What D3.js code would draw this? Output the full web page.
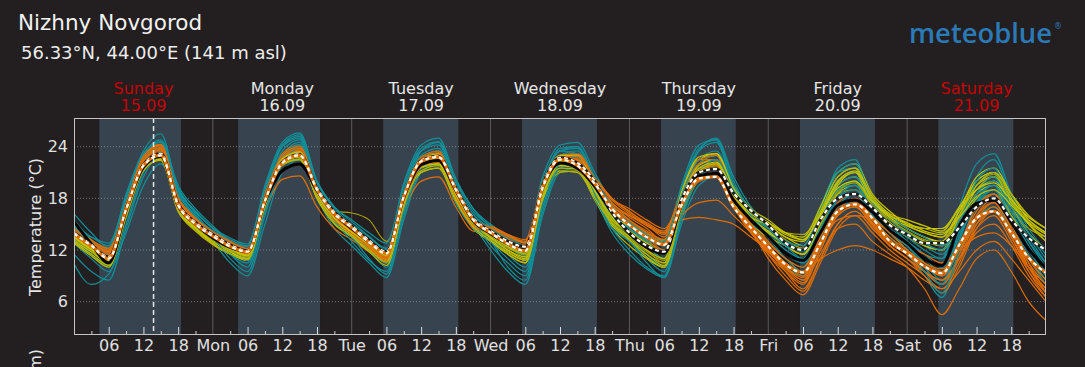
<!DOCTYPE html>
<html><head><meta charset="utf-8">
<script src="https://cdn.jsdelivr.net/npm/d3@7"></script>
<style>
html,body{margin:0;padding:0;background:#231f20;}
svg{display:block;font-family:"DejaVu Sans",sans-serif;}
</style></head><body>
<svg id="chart" width="1085" height="367"></svg>
<script>
// ---------- data ----------
const titleText = "Nizhny Novgorod";
const subtitleText = "56.33°N, 44.00°E (141 m asl)";
const dayNames = ["Sunday","Monday","Tuesday","Wednesday","Thursday","Friday","Saturday"];
const dayDates = ["15.09","16.09","17.09","18.09","19.09","20.09","21.09"];
const weekendDays = ["Sunday","Saturday"];
const dayShort = ["Sun","Mon","Tue","Wed","Thu","Fri","Sat"];
const hourLabels = ["06","12","18"];
const sunriseHours = [4.37,4.35,5.46,5.43,5.46,5.48,5.39];
const sunsetHours = [18.49,18.52,18.42,18.39,18.37,18.44,18.35];
const yTicks = [6,12,18,24];
const nowHour = 13.75;
const hours = d3.range(0,169,3);

const medianLine = [15.3,12.7,10.5,16.6,21.6,22.9,17.1,15.0, 13.4,12.3,11.8,17.6,21.2,22.0,18.9,16.2, 14.5,12.9,11.7,18.1,21.9,22.4,18.9,15.4, 13.9,12.7,12.0,19.2,22.1,21.5,19.4,16.3, 13.9,12.3,11.6,17.2,20.6,20.9,17.8,15.5, 13.6,11.6,10.8,14.0,17.2,17.8,16.4,14.3, 12.8,11.0,10.2,14.8,17.4,17.8,15.2,12.1,9.9];
const meanUpper = [14.0,12.6,11.2,16.8,21.9,23.2,17.4,15.2, 13.8,12.6,11.9,17.8,22.2,23.1,19.2,16.4, 14.8,13.1,11.8,18.3,22.4,22.9,19.2,15.7, 14.2,13.0,12.4,19.5,22.7,22.1,20.0,16.4, 14.0,12.5,11.8,17.8,21.0,21.4,18.6,16.6, 14.9,12.8,12.0,15.5,18.0,18.5,16.9,14.9, 13.8,12.8,12.8,14.6,17.0,18.0,15.5,13.4,12.0];
const meanLower = [13.9,12.5,11.0,16.7,21.8,23.0,17.2,15.0, 13.6,12.4,11.8,17.7,22.1,23.0,19.0,16.2, 14.6,12.9,11.6,18.2,22.3,22.8,19.0,15.5, 14.0,12.7,11.9,19.2,22.5,21.8,19.7,16.8, 14.9,13.5,12.6,17.2,20.3,20.5,17.0,14.6, 12.4,10.3,9.4,12.8,16.5,17.3,15.7,13.0, 11.6,10.1,9.3,12.6,15.7,16.5,14.0,11.1,9.35];

const tealMembers = [
[16.2,14.0,12.3,18.5,23.5,25.5,19.0,16.5, 14.5,13.0,12.4,19.5,24.5,25.6,20.0,17.0, 15.3,13.6,12.2,19.8,24.2,25.0,20.3,16.8, 15.0,13.7,12.8,20.5,24.2,24.5,21.0,17.5, 15.5,14.0,12.5,19.5,24.2,24.8,19.0,16.0, 14.0,12.5,11.5,16.5,21.5,22.5,17.5,15.0, 13.0,11.5,11.0,17.0,22.0,23.2,18.5,14.5,12.0],
[10.4,8.0,9.2,14.0,19.5,22.0,18.5,15.5, 13.0,10.5,9.0,15.0,21.0,22.5,18.0,14.5, 12.5,10.5,8.8,15.5,21.0,22.0,18.5,15.0, 12.0,9.5,8.0,16.0,21.0,21.5,18.0,14.0, 11.5,9.8,8.8,15.0,19.5,20.5,17.0,14.0, 12.0,10.0,9.0,13.0,17.0,17.5,15.5,13.5, 11.5,9.0,6.5,11.5,15.5,17.0,14.5,11.0,8.0],
[15.5,13.2,11.8,17.5,23.0,24.8,19.5,16.8, 14.8,13.0,11.6,18.5,24.0,25.2,19.5,16.5, 14.5,12.8,11.0,18.0,23.5,24.5,19.5,16.0, 14.5,13.0,12.0,19.5,23.8,24.0,20.0,16.5, 14.5,12.5,11.0,18.5,23.5,25.0,20.5,17.0, 15.0,13.0,12.0,17.0,21.0,21.5,17.0,15.5, 14.0,12.5,11.5,15.0,20.5,22.5,18.0,14.0,11.0],
[12.8,11.0,9.5,15.0,21.0,23.5,18.0,15.0, 13.5,11.5,10.0,17.0,23.0,24.5,19.0,16.0, 14.0,12.0,10.5,17.5,22.5,23.5,18.5,15.0, 13.5,11.5,10.0,18.0,22.5,23.0,19.0,15.5, 13.5,11.5,10.0,17.0,21.5,22.0,18.0,15.0, 13.0,11.0,10.0,14.5,19.0,20.0,16.5,14.5, 13.0,11.0,9.5,13.5,18.0,19.5,16.0,12.5,9.5],
[14.2,12.5,11.5,17.0,22.5,24.2,19.2,16.2, 14.0,12.6,12.0,18.0,23.0,24.0,19.0,16.0, 14.3,12.8,11.5,18.5,22.8,23.5,19.0,15.5, 14.0,12.5,11.5,19.0,23.0,23.5,20.0,16.5, 14.5,13.0,12.0,18.0,22.0,23.0,18.5,15.5, 13.5,11.5,10.5,14.0,18.5,20.0,16.0,14.0, 12.5,10.5,8.5,12.5,17.0,19.0,15.5,12.0,9.0],
[13.5,11.5,10.0,16.0,22.0,24.0,18.2,15.5, 13.8,12.0,11.0,17.0,22.5,23.5,18.5,15.5, 13.8,12.0,10.0,17.0,22.0,23.0,18.0,15.0, 13.0,11.0,9.5,17.5,22.0,22.5,18.5,15.0, 13.0,11.0,9.5,16.5,21.0,22.0,18.5,15.5, 13.8,12.0,11.0,15.0,19.5,20.5,17.0,15.0, 13.5,12.0,11.0,14.0,17.5,18.5,15.0,12.0,10.0],
[14.8,13.0,12.0,17.8,22.8,24.0,18.8,16.0, 14.2,12.8,11.8,18.2,23.5,24.8,19.8,16.8, 15.0,13.5,12.0,18.8,23.0,23.8,19.5,16.2, 14.5,13.2,12.2,19.5,23.5,23.2,19.5,16.0, 14.0,12.5,11.5,17.0,21.0,21.5,17.5,14.5, 12.5,10.5,9.0,12.5,17.0,18.5,16.0,14.0, 12.0,10.0,8.0,13.0,18.5,20.5,16.5,13.0,10.5],
[13.0,11.8,11.0,16.5,21.8,23.2,17.8,15.2, 13.2,11.5,10.5,16.5,22.0,23.2,18.2,15.2, 13.5,11.0,9.2,16.0,21.5,22.5,17.5,14.5, 13.0,10.0,8.5,16.5,21.5,22.0,18.0,14.5, 13.0,10.5,8.8,15.5,20.5,21.5,18.0,15.0, 14.0,12.5,12.0,16.0,20.0,21.0,17.5,15.5, 14.0,12.8,12.0,15.5,19.5,21.0,17.5,14.0,11.5],
[14.5,12.8,11.0,17.2,22.5,23.8,18.5,16.0, 13.8,12.2,10.8,17.5,22.8,24.2,19.2,16.2, 14.8,13.0,11.5,18.0,22.5,23.2,18.8,15.8, 14.2,12.5,11.2,18.8,22.8,23.0,19.2,15.8, 14.5,13.2,12.5,18.5,22.5,23.5,19.5,16.5, 14.5,12.8,11.8,15.5,19.0,19.5,16.5,14.5, 13.0,11.5,10.0,13.5,17.5,19.0,15.0,11.5,8.5],
[15.0,13.5,12.5,18.0,23.0,24.5,19.0,16.5, 14.5,13.2,12.5,19.0,24.0,25.0,19.8,16.5, 14.8,13.0,12.0,19.0,23.5,24.2,19.8,16.5, 14.8,13.5,12.5,20.0,23.5,24.0,20.5,17.0, 15.0,13.5,12.5,19.0,23.5,24.5,19.5,16.0, 13.5,11.0,9.5,13.0,18.0,19.5,16.5,14.0, 12.5,10.0,8.0,14.5,20.0,21.5,17.0,13.5,10.5],
[11.5,9.5,8.5,14.5,20.5,23.0,18.5,15.8, 13.5,11.0,9.5,16.0,22.0,23.8,18.8,15.5, 13.0,10.8,9.5,16.5,22.0,23.0,18.8,15.5, 12.5,10.5,9.0,17.0,22.0,22.8,18.5,14.5, 12.0,10.0,9.0,16.0,21.0,22.5,19.0,16.0, 14.5,13.0,12.5,16.5,21.0,22.0,18.0,16.0, 14.5,13.5,12.5,15.0,18.5,20.0,16.5,13.0,10.0],
[14.8,13.5,12.8,18.2,23.2,24.6,19.2,16.4, 14.6,13.4,12.7,19.2,24.2,25.4,20.0,17.0, 15.5,14.0,12.8,19.5,23.8,24.6,20.0,16.8, 14.6,13.2,12.3,19.8,23.5,23.8,20.5,17.0, 15.2,13.8,13.0,19.2,23.8,24.8,20.0,16.5, 14.5,12.5,11.0,14.5,18.0,19.0,16.0,14.0, 12.0,9.5,7.0,12.0,17.5,19.5,15.5,12.0,9.0]
];

const yellowMembers = [
[13.5,12.0,10.8,16.5,21.8,23.0,17.0,14.8, 13.2,12.0,11.2,17.5,22.5,23.2,18.5,15.8, 14.2,12.8,11.2,18.0,22.0,22.8,18.5,15.2, 13.8,12.5,11.5,19.0,22.5,22.5,19.0,15.8, 14.0,12.5,11.0,17.5,21.5,22.0,18.5,16.0, 14.5,12.8,12.0,15.5,19.5,20.5,17.5,15.5, 14.0,13.0,12.5,15.5,19.0,20.5,18.0,15.0,13.0],
[13.0,11.5,10.2,16.0,21.5,22.5,16.5,14.5, 13.0,11.8,10.8,17.2,22.0,22.8,18.2,15.5, 13.8,12.2,10.5,17.5,21.5,22.0,18.0,14.8, 13.2,11.8,10.8,18.5,21.8,21.5,18.5,15.2, 13.2,11.5,10.2,16.5,20.5,21.5,18.0,15.5, 14.0,12.5,11.5,15.0,19.0,20.0,17.0,15.0, 13.5,12.5,12.0,15.0,18.5,19.5,17.0,14.0,12.0],
[14.0,12.5,11.2,16.8,22.0,23.2,17.5,15.2, 13.5,12.3,11.5,17.8,22.8,23.5,18.8,16.0, 14.5,13.0,11.8,18.5,22.3,23.0,18.8,15.5, 14.0,12.8,12.0,19.2,22.8,22.8,19.5,16.2, 14.5,13.0,12.0,18.0,22.0,23.0,19.0,16.5, 15.0,13.5,13.0,16.5,20.5,21.5,18.0,16.0, 14.5,13.5,13.0,16.5,20.5,21.5,18.5,15.5,14.0],
[13.8,12.2,11.0,16.5,21.5,22.8,17.2,15.0, 13.6,12.4,11.6,17.5,22.2,23.0,18.8,16.5, 16.3,15.5,13.0,17.8,21.5,22.2,18.2,15.0, 13.5,12.2,11.5,18.5,22.0,22.0,18.8,15.5, 13.8,12.0,10.5,16.0,20.0,20.5,17.0,15.0, 14.0,12.5,11.5,14.5,18.5,19.0,17.0,15.5, 14.8,14.0,13.5,15.0,17.5,18.5,16.5,14.5,13.5],
[13.2,11.8,10.5,16.2,21.5,22.8,16.8,14.5, 12.8,11.5,10.8,17.0,22.0,22.5,18.0,15.2, 13.5,12.0,10.8,17.0,21.0,21.5,17.5,14.5, 13.0,11.5,10.5,18.0,21.2,21.0,18.0,14.8, 13.0,11.2,10.0,16.5,21.0,22.0,18.5,16.0, 14.8,13.5,12.5,16.0,20.0,21.0,17.5,15.8, 14.5,13.5,12.8,15.5,19.5,20.5,17.5,15.0,13.0],
[13.6,12.2,11.0,16.6,21.8,23.0,17.0,14.8, 13.4,12.2,11.4,17.8,22.5,23.3,18.6,15.8, 14.0,12.5,11.0,18.0,22.0,22.5,18.5,15.2, 13.5,12.0,11.0,18.8,22.2,22.0,18.8,15.5, 14.2,12.8,11.8,17.8,21.8,22.5,18.5,15.8, 14.2,12.5,11.5,15.0,19.5,21.0,17.0,15.2, 13.8,12.5,12.0,16.0,20.0,21.0,18.0,15.0,13.5],
[12.8,11.3,10.0,15.8,21.2,22.5,16.5,14.2, 12.6,11.5,11.0,17.0,21.8,22.5,18.0,15.0, 13.5,11.8,10.2,16.8,21.0,21.5,17.8,14.5, 13.0,11.5,10.5,17.8,21.0,21.2,17.8,14.5, 12.5,11.0,10.0,16.0,20.5,21.0,17.5,15.0, 13.5,12.5,12.0,15.0,18.5,19.5,16.5,14.8, 14.0,13.0,12.5,15.0,18.0,19.0,16.0,13.5,12.0],
[13.4,12.0,10.8,16.4,21.6,22.9,17.2,15.0, 13.3,12.0,11.3,17.6,22.4,23.0,18.4,15.6, 14.2,12.6,11.4,18.2,22.2,22.6,18.6,15.4, 13.8,12.6,11.8,19.0,22.5,22.2,19.0,16.0, 14.8,13.5,12.5,18.5,22.5,23.2,19.5,16.8, 15.5,14.0,13.5,17.0,21.0,22.0,18.5,16.5, 15.0,14.5,14.5,17.0,20.0,21.0,18.5,16.0,14.5],
[13.0,11.8,10.6,16.2,21.4,22.6,16.8,14.6, 13.0,11.8,11.0,17.3,22.2,22.8,18.2,15.4, 13.8,12.3,10.8,17.6,21.6,22.0,18.0,15.0, 13.4,12.0,11.2,18.4,21.8,21.6,18.4,15.2, 13.6,12.0,11.0,17.0,21.0,21.8,18.0,15.5, 14.0,12.8,12.0,15.8,19.8,21.0,17.8,15.8, 14.8,14.0,13.5,16.5,19.0,20.0,17.5,15.5,14.0],
[13.3,11.9,10.9,16.3,21.5,22.7,17.0,14.8, 13.1,11.9,11.2,17.4,22.1,22.9,18.3,15.6, 14.0,12.6,11.3,17.7,21.8,22.4,18.3,15.1, 13.6,12.3,11.4,18.6,22.0,21.8,18.6,15.3, 13.4,11.8,10.8,16.8,20.8,21.5,18.2,15.8, 14.6,13.2,12.2,15.2,18.8,19.8,17.2,15.6, 14.2,13.2,12.8,16.0,19.5,20.8,17.8,15.2,13.0],
[13.7,12.3,11.1,16.7,21.9,23.1,17.3,15.1, 13.5,12.3,11.6,17.9,22.6,23.4,18.9,16.1, 14.4,12.9,11.6,18.4,22.4,23.2,19.0,15.6, 14.1,12.9,12.2,19.4,23.0,23.0,19.6,16.6, 15.0,13.8,13.0,18.8,22.8,23.2,19.2,16.5, 15.2,13.8,13.2,16.2,20.0,21.2,18.2,16.2, 15.5,14.8,14.2,16.8,19.0,19.8,17.8,15.8,14.5],
[12.9,11.5,10.3,16.0,21.3,22.4,16.6,14.3, 12.7,11.6,10.9,17.1,21.9,22.6,18.0,15.1, 13.6,12.0,10.6,17.2,21.2,21.8,17.7,14.7, 13.1,11.7,10.8,18.2,21.5,21.4,18.1,15.0, 13.2,11.5,10.5,16.8,21.2,22.0,18.2,15.8, 15.0,14.0,13.8,16.5,20.5,21.5,18.0,16.0, 15.0,14.5,14.0,16.0,19.5,21.0,18.5,16.0,14.5],
[13.5,12.1,10.9,16.5,21.7,22.9,17.1,14.9, 13.3,12.1,11.4,17.7,22.3,23.1,18.5,15.7, 14.1,12.7,11.4,18.0,22.0,22.6,18.4,15.2, 13.7,12.4,11.6,18.8,22.3,22.0,18.9,15.8, 14.0,12.6,11.5,17.2,21.5,22.2,18.6,16.2, 15.2,14.0,13.2,16.0,19.2,20.0,17.6,16.0, 15.2,14.2,13.8,15.8,18.2,19.0,17.2,15.2,13.8]
];
const yellowShade = ["#c6c600","#c6c600","#c6c600","#a3a300","#c6c600","#c6c600","#b8b800","#c6c600","#c6c600","#a3a300","#c6c600","#b8b800","#c6c600"];

const orangeMembers = [
[14.2,12.8,11.8,17.0,22.5,24.0,17.8,15.5, 13.8,12.6,11.8,18.0,22.8,24.0,19.0,15.8, 14.3,12.8,11.2,18.0,22.5,23.5,18.5,15.0, 14.5,13.5,12.5,19.5,22.8,23.0,20.0,17.5, 15.8,14.5,13.0,17.5,20.5,21.0,17.5,14.5, 12.5,10.5,9.5,13.0,16.5,17.5,15.0,13.0, 11.5,10.0,9.0,12.0,16.0,17.5,14.0,10.5,8.0],
[14.0,12.5,11.5,16.5,21.8,23.5,17.5,15.2, 13.5,12.2,11.0,16.5,20.2,20.6,17.0,14.5, 13.2,11.8,10.5,16.5,20.0,20.5,17.0,14.2, 14.0,13.0,12.0,18.5,22.0,22.0,19.5,17.0, 16.0,15.0,14.0,15.5,15.8,15.5,15.0,13.5, 12.0,10.5,9.5,11.0,12.0,12.5,12.0,11.0, 10.0,8.5,7.5,9.5,12.0,13.0,11.0,8.5,6.0],
[14.4,13.0,12.0,17.2,22.8,24.2,18.0,15.6, 14.0,12.8,12.0,18.0,22.8,23.8,19.0,16.0, 14.2,12.5,10.8,17.8,22.0,22.8,18.2,14.8, 14.0,13.0,12.0,19.0,22.5,22.5,19.8,17.2, 15.5,14.2,13.2,18.0,21.5,22.0,18.0,15.0, 12.0,10.0,8.5,12.5,16.5,18.0,15.0,12.8, 11.5,9.5,8.0,11.5,16.0,18.0,14.5,10.0,7.0],
[13.8,12.4,11.6,16.8,22.2,23.6,17.6,15.2, 13.6,12.4,11.6,17.6,22.2,23.2,18.6,15.6, 14.0,12.4,11.0,17.6,22.0,23.0,18.4,15.0, 14.2,13.2,12.4,19.2,22.6,22.8,19.6,16.8, 15.0,13.8,12.5,17.5,21.0,21.5,17.0,14.0, 11.5,9.5,8.0,12.0,16.0,17.0,14.8,12.5, 11.0,9.0,7.5,10.5,15.0,17.0,14.0,10.0,7.5],
[14.6,13.2,12.2,17.5,23.0,24.3,18.2,15.8, 14.2,13.0,12.2,18.5,23.2,24.2,19.2,16.2, 14.6,13.0,11.5,18.5,22.8,23.5,18.8,15.4, 14.8,13.8,13.0,19.8,23.0,23.2,20.5,18.0, 16.5,15.0,13.5,18.5,22.0,22.5,18.5,15.5, 13.0,11.0,9.5,13.5,17.5,18.5,15.5,13.5, 12.0,10.5,9.5,12.5,16.5,18.5,15.0,11.0,8.5],
[13.6,12.2,11.4,16.6,22.0,23.3,17.4,15.0, 13.4,12.2,11.4,17.4,22.0,23.0,18.4,15.4, 13.8,12.2,10.6,17.2,21.5,22.2,18.0,14.6, 13.8,12.8,11.8,18.8,22.2,22.2,19.2,16.5, 15.0,13.5,12.0,17.0,20.0,20.5,17.0,14.0, 12.0,10.0,8.5,11.5,15.0,16.5,14.5,12.5, 11.0,9.5,8.5,11.0,14.0,15.0,12.5,9.0,6.5],
[14.0,12.6,11.8,17.0,22.5,23.8,17.8,15.4, 13.7,12.5,11.7,17.8,22.5,23.5,18.8,15.7, 14.1,12.6,11.2,17.8,22.2,23.2,18.5,15.0, 14.3,13.3,12.2,19.2,22.5,22.5,19.5,16.8, 14.8,13.2,11.8,17.5,21.5,22.0,17.5,14.5, 12.0,9.5,7.5,11.0,14.5,15.0,13.0,11.5, 10.0,7.5,4.5,7.5,11.0,12.0,9.5,6.0,3.8],
[14.3,12.9,11.9,17.1,22.6,23.9,17.9,15.5, 13.9,12.7,11.9,17.9,22.6,23.6,18.9,15.9, 14.2,12.7,11.1,17.9,22.2,22.9,18.4,14.9, 14.4,13.4,12.6,19.4,22.7,22.6,19.8,17.4, 16.0,14.8,13.8,18.8,22.5,23.0,18.5,15.0, 12.5,10.5,9.0,12.5,16.0,17.0,15.0,13.0, 11.5,9.5,8.0,11.0,15.5,17.5,14.5,10.5,7.0],
[13.9,12.5,11.7,16.9,22.3,23.7,17.7,15.3, 13.7,12.4,11.5,17.5,22.4,23.4,18.6,15.6, 14.0,12.5,11.0,17.5,21.8,22.6,18.0,14.6, 13.9,12.9,12.0,18.9,22.3,22.4,19.3,16.6, 15.2,14.0,13.2,16.0,17.5,17.8,16.0,14.0, 11.8,10.0,8.8,12.5,15.5,16.0,15.5,14.0, 12.5,11.5,10.5,12.0,13.5,14.0,12.5,10.0,8.0],
[14.1,12.7,11.8,17.0,22.4,23.8,17.8,15.4, 13.8,12.6,11.8,17.8,22.6,23.7,18.9,15.8, 14.3,12.8,11.3,18.1,22.4,23.1,18.6,15.2, 14.6,13.6,12.8,19.6,22.9,23.0,20.2,17.8, 16.2,15.0,14.0,19.0,22.5,22.5,18.0,14.5, 11.0,8.5,6.8,10.5,14.5,16.0,14.0,12.0, 10.5,9.0,7.0,10.0,14.5,16.5,13.5,9.5,6.5],
[14.2,12.8,11.9,17.1,22.6,24.1,18.0,15.6, 13.9,12.7,11.9,17.9,22.7,23.8,19.0,15.9, 14.2,12.6,11.1,17.8,22.1,22.9,18.3,14.9, 14.7,13.8,13.2,19.9,22.9,23.1,20.4,18.0, 16.4,15.2,14.2,17.8,20.0,20.5,17.2,14.2, 11.5,9.0,7.2,11.0,15.0,16.5,14.5,12.5, 11.0,9.5,8.5,11.0,14.5,16.0,13.0,9.5,7.0],
[13.7,12.3,11.5,16.7,22.1,23.4,17.5,15.1, 13.5,12.3,11.5,17.5,22.1,23.1,18.5,15.5, 13.9,12.3,10.8,17.4,21.7,22.5,18.2,14.8, 14.1,13.1,12.3,19.0,22.4,22.6,19.5,16.9, 15.4,14.0,12.8,17.8,21.2,21.8,17.2,14.2, 11.8,9.8,8.2,12.0,16.2,17.5,15.2,13.2, 11.8,10.2,9.0,12.5,17.0,18.5,15.0,11.0,8.5],
[14.5,13.1,12.1,17.3,22.9,24.2,18.1,15.7, 14.1,12.9,12.1,18.2,23.0,24.0,19.1,16.1, 14.4,12.9,11.4,18.2,22.6,23.3,18.7,15.3, 14.6,13.7,12.9,19.7,22.8,22.9,20.3,17.9, 16.8,15.5,14.5,18.0,20.5,21.0,17.8,15.0, 12.8,11.0,10.0,13.5,17.0,17.8,15.8,14.0, 12.0,10.5,9.8,12.0,15.0,16.5,13.5,10.0,7.5]
];

// ---------- layout ----------
const W = 1085, H = 367;
const plot = {left:74, right:1046, top:118, bottom:335};
const svg = d3.select("#chart");
svg.append("rect").attr("width",W).attr("height",H).attr("fill","#231f20");

const x = d3.scaleLinear().domain([0,168]).range([plot.left, plot.right]);
const y = d3.scaleLinear().domain([2.13,27.33]).range([plot.bottom, plot.top]);

// daylight shading
const g = svg.append("g");
g.selectAll("rect.day").data(dayNames).join("rect").attr("class","day")
  .attr("x",(d,i)=>x(i*24+sunriseHours[i]))
  .attr("width",(d,i)=>x(i*24+sunsetHours[i])-x(i*24+sunriseHours[i]))
  .attr("y",plot.top).attr("height",plot.bottom-plot.top)
  .attr("fill","#37444f");

// vertical day lines
g.selectAll("line.dayline").data(d3.range(1,7)).join("line")
  .attr("x1",d=>x(d*24)).attr("x2",d=>x(d*24))
  .attr("y1",plot.top).attr("y2",plot.bottom)
  .attr("stroke","#5a5a5a").attr("stroke-width",1);

// horizontal grid
g.selectAll("line.hgrid").data(yTicks).join("line")
  .attr("x1",plot.left).attr("x2",plot.right)
  .attr("y1",d=>y(d)).attr("y2",d=>y(d))
  .attr("stroke","#8a8a8a").attr("stroke-width",0.8).attr("stroke-dasharray","1,2");

// clip
svg.append("clipPath").attr("id","clip").append("rect")
  .attr("x",plot.left).attr("y",plot.top).attr("width",plot.right-plot.left).attr("height",plot.bottom-plot.top);

const line = d3.line().x((d,i)=>x(hours[i])).y(d=>y(d)).curve(d3.curveMonotoneX);
const lines = svg.append("g").attr("clip-path","url(#clip)");

const n = Math.max(tealMembers.length, yellowMembers.length, orangeMembers.length);
for (let i=0;i<n;i++){
  if (tealMembers[i]) lines.append("path").attr("d",line(tealMembers[i])).attr("fill","none").attr("stroke","#11909a").attr("stroke-width",1.2);
  if (orangeMembers[i]) lines.append("path").attr("d",line(orangeMembers[i])).attr("fill","none").attr("stroke","#e06d00").attr("stroke-width",1.2);
  if (yellowMembers[i]) lines.append("path").attr("d",line(yellowMembers[i])).attr("fill","none").attr("stroke",yellowShade[i]).attr("stroke-width",1.2);
}

// median black
lines.append("path").attr("d",line(medianLine)).attr("fill","none").attr("stroke","#000").attr("stroke-width",3);
// upper mean: dark core with white dashes
lines.append("path").attr("d",line(meanUpper)).attr("fill","none").attr("stroke","#1a1a1a").attr("stroke-width",3);
lines.append("path").attr("d",line(meanUpper)).attr("fill","none").attr("stroke","#fff").attr("stroke-width",2.2).attr("stroke-dasharray","4,3");
// lower mean: orange core with white dashes
lines.append("path").attr("d",line(meanLower)).attr("fill","none").attr("stroke","#e06d00").attr("stroke-width",3);
lines.append("path").attr("d",line(meanLower)).attr("fill","none").attr("stroke","#fff").attr("stroke-width",2.2).attr("stroke-dasharray","4,3");

// now line
svg.append("line").attr("x1",x(nowHour)).attr("x2",x(nowHour)).attr("y1",plot.top).attr("y2",plot.bottom)
  .attr("stroke","#e8e8e8").attr("stroke-width",1.5).attr("stroke-dasharray","5,3");

// bottom axis: minor ticks
const minorTicks = [], majorTicks = [];
for (let d=0; d<7; d++){ [3,9,15,21].forEach(h=>minorTicks.push(d*24+h)); [6,12,18].forEach(h=>majorTicks.push(d*24+h)); }
const axMinor = d3.axisBottom(x).tickValues(minorTicks).tickSizeInner(-4).tickSizeOuter(0).tickFormat("");
const gMinor = svg.append("g").attr("transform",`translate(0,${plot.bottom})`).call(axMinor);
gMinor.select(".domain").remove();
gMinor.selectAll("line").attr("stroke","#cfcfcf");

const labelTicks = majorTicks.concat(d3.range(1,7).map(d=>d*24)).sort((a,b)=>a-b);
const axMajor = d3.axisBottom(x).tickValues(labelTicks).tickSizeInner(-8).tickSizeOuter(0).tickPadding(5)
  .tickFormat(h => h%24===0 ? dayShort[h/24] : hourLabels[(h%24)/6-1]);
const gMajor = svg.append("g").attr("transform",`translate(0,${plot.bottom})`).call(axMajor);
gMajor.select(".domain").remove();
gMajor.selectAll("line").attr("stroke",h=>h%24===0?"none":"#dcdcdc");
gMajor.selectAll("text").attr("fill","#e0e0e0").attr("font-size",16).attr("font-family","DejaVu Sans");

// y axis
const axY = d3.axisLeft(y).tickValues(yTicks).tickSize(0).tickPadding(6);
const gY = svg.append("g").attr("transform",`translate(${plot.left},0)`).call(axY);
gY.select(".domain").remove();
gY.selectAll("text").attr("fill","#e0e0e0").attr("font-size",16).attr("font-family","DejaVu Sans");

// plot frame
svg.append("rect").attr("x",plot.left+0.5).attr("y",plot.top+0.5)
  .attr("width",plot.right-plot.left-1).attr("height",plot.bottom-plot.top-1)
  .attr("fill","none").attr("stroke","#c4c4c4").attr("stroke-width",1);

// day headers
const hdr = svg.append("g").attr("font-size",16).attr("text-anchor","middle");
hdr.selectAll("text.dn").data(dayNames).join("text")
  .attr("x",(d,i)=>x(i*24+12)).attr("y",94)
  .attr("fill",d=>weekendDays.includes(d)?"#c80000":"#e6e6e6").text(d=>d);
hdr.selectAll("text.dd").data(dayDates).join("text")
  .attr("x",(d,i)=>x(i*24+12)).attr("y",111)
  .attr("fill",(d,i)=>weekendDays.includes(dayNames[i])?"#c80000":"#e6e6e6").text(d=>d);

// titles
svg.append("text").attr("x",18).attr("y",30).attr("font-size",21.5).attr("fill","#f2f2f2").text(titleText);
svg.append("text").attr("x",21).attr("y",59).attr("font-size",18).attr("fill","#ececec").text(subtitleText);

// y label
svg.append("text").attr("transform","translate(41,227) rotate(-90)").attr("text-anchor","middle")
  .attr("font-size",16).attr("fill","#e6e6e6").text("Temperature (°C)");
svg.append("text").attr("transform","translate(41,349) rotate(-90)").attr("text-anchor","end")
  .attr("font-size",16).attr("fill","#e6e6e6").text("Precipitation (mm)");

// logo
svg.append("text").attr("x",909).attr("y",43).attr("font-size",27).attr("font-family","Open Sans, DejaVu Sans")
  .attr("font-weight",600).attr("fill","#2a7ab8").attr("textLength",143).attr("lengthAdjust","spacingAndGlyphs").text("meteoblue");
svg.append("text").attr("x",1054).attr("y",29).attr("font-size",8).attr("fill","#2a7ab8").text("®");
</script>
</body></html>
